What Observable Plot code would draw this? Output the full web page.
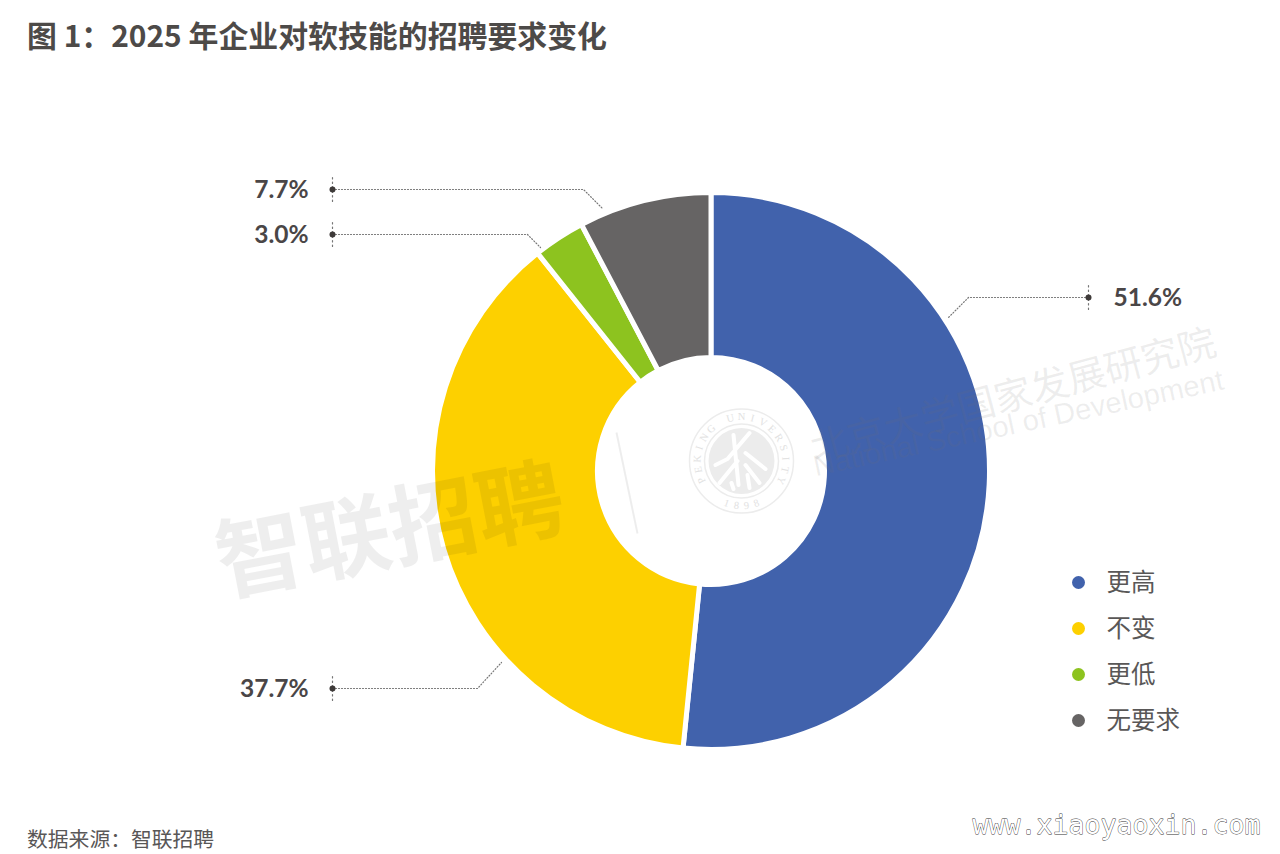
<!DOCTYPE html>
<html lang="zh">
<head>
<meta charset="utf-8">
<title>图 1：2025 年企业对软技能的招聘要求变化</title>
<script src="https://cdn.jsdelivr.net/npm/d3@7"></script>
<script src="https://cdn.jsdelivr.net/npm/@observablehq/plot@0.6"></script>
<style>
  html, body { margin: 0; padding: 0; background: #fff; width: 1280px; height: 854px; overflow: hidden; }
  #title { margin: 0; height: 72px; box-sizing: border-box; padding: 14px 0 0 27px; font: 700 29.9px/40px "Noto Sans CJK SC", sans-serif; color: #4d4a48; white-space: pre; }
  #chart svg { display: block; }
  #source { height: 54px; box-sizing: border-box; padding: 23px 0 0 27px; font: 400 20.8px/30px "Noto Sans CJK SC", sans-serif; color: #595757; }
</style>
</head>
<body>
<h1 id="title">图 1：2025 年企业对软技能的招聘要求变化</h1>
<div id="chart"></div>
<div id="source">数据来源：智联招聘</div>
<script>
// Data
const categories = ["更高", "不变", "更低", "无要求"];
const shares = [51.6, 37.7, 3.0, 7.7];
const shareLabels = ["51.6%", "37.7%", "3.0%", "7.7%"];
const colors = ["#4162ac", "#fdd000", "#8dc31f", "#666464"];

// Layout (page pixels)
const W = 1280, TOP = 72, BOTTOM = 800;
const centre = {x: 711, y: 471}, outerR = 278.5, innerR = 113.5;
const legendX = 1078, legendLabelX = 1106, legendY = [582, 628, 674, 720];
const leaders = [
  {points: [[1088, 297], [968, 297], [947, 318]], labelX: 1113, anchor: "start"},
  {points: [[332, 688], [477, 688], [501, 662]], labelX: 308, anchor: "end"},
  {points: [[332, 234], [527, 234], [540, 247]], labelX: 308, anchor: "end"},
  {points: [[332, 189], [583, 189], [602, 208]], labelX: 308, anchor: "end"}
];

const legendRows = categories.map((c, i) => ({c, y: legendY[i]}));
const leaderPts = leaders.flatMap((l, i) => l.points.map(([x, y]) => ({i, x, y})));
const tickPts = leaders.flatMap((l, i) => [-12, 12].map(d => ({i, x: l.points[0][0], y: l.points[0][1] + d})));
const leaderEnds = leaders.map((l, i) => ({
  x: l.points[0][0], y: l.points[0][1], labelX: l.labelX, anchor: l.anchor, label: shareLabels[i]
}));

const svgNS = "http://www.w3.org/2000/svg";
function donutMark(index, scales) {
  const g = document.createElementNS(svgNS, "g");
  const pie = d3.pie().sort(null).value(d => d.share)(categories.map((c, i) => ({c, share: shares[i]})));
  const r = s => scales.x(s) - scales.x(0);
  const arc = d3.arc().innerRadius(r(innerR)).outerRadius(r(outerR));
  const cx = scales.x(centre.x), cy = scales.y(centre.y);
  g.setAttribute("transform", `translate(${cx},${cy})`);
  for (const p of pie) {
    const path = document.createElementNS(svgNS, "path");
    path.setAttribute("d", arc(p));
    path.setAttribute("fill", scales.color(p.data.c));
    path.setAttribute("stroke", "#fff");
    path.setAttribute("stroke-width", 5);
    g.appendChild(path);
  }
  return g;
}

function sealMark(index, scales) {
  const cx = scales.x(741.5), cy = scales.y(461);
  const g = d3.create("svg:g").attr("transform", `translate(${cx},${cy})`).attr("fill", "none").attr("stroke", "#ececec");
  g.append("circle").attr("r", 52).attr("stroke-width", 1.5);
  g.append("circle").attr("r", 37).attr("stroke-width", 1.5);
  g.append("circle").attr("r", 33).attr("fill", "#ececec").attr("stroke", "none");
  g.append("path").attr("d", "M-8,-26L-3,24M8,-28L-14,-2L-26,4M4,-8L24,8M-4,0L-22,22M4,4L18,22M-10,22L-8,28M6,14L8,27")
    .attr("stroke", "#fff").attr("stroke-width", 4).attr("stroke-linecap", "round");
  const ring = (word, mid, step, radius, flip) => {
    [...word].forEach((ch, i) => {
      const a = mid + (i - (word.length - 1) / 2) * step;
      const rad = a * Math.PI / 180;
      g.append("text").attr("fill", "#e2e2e2").attr("stroke", "none")
        .attr("font-family", "Liberation Serif").attr("font-size", 10.5).attr("text-anchor", "middle").attr("dy", "0.35em")
        .attr("transform", `translate(${radius * Math.sin(rad)},${-radius * Math.cos(rad)}) rotate(${flip ? a - 180 : a})`)
        .text(ch);
    });
  };
  ring("PEKING UNIVERSITY", 0, 14.5, 44.5, false);
  ring("1898", 180, -13, 44.5, true);
  return g.node();
}

const cjk = "Noto Sans CJK SC";
const plot = Plot.plot({
  width: W,
  height: BOTTOM - TOP,
  margin: 0,
  style: {background: "transparent", overflow: "visible"},
  x: {domain: [0, W], range: [0, W], axis: null},
  y: {domain: [TOP, BOTTOM], range: [0, BOTTOM - TOP], axis: null},
  color: {domain: categories, range: colors},
  marks: [
    donutMark,
    // watermarks
    sealMark,
    Plot.text(["智联招聘"], {x: 390, y: 533, rotate: -11, fontSize: 88, fontWeight: 700, fontFamily: cjk, fill: "#000", fillOpacity: 0.067}),
    Plot.link([0], {x1: 616, y1: 432, x2: 637, y2: 533, stroke: "#000", strokeOpacity: 0.07, strokeWidth: 2}),
    Plot.text(["北京大学国家发展研究院"], {x: 1013, y: 396, rotate: -15, fontSize: 38, fontFamily: cjk, fill: "#717171", fillOpacity: 0.12}),
    Plot.text(["National School of Development"], {x: 1018, y: 423, rotate: -12, fontSize: 29.3, fontFamily: "Liberation Sans", fill: "#717171", fillOpacity: 0.12}),
    // leaders
    Plot.line(leaderPts, {x: "x", y: "y", z: "i", stroke: "#777", strokeWidth: 1.2, strokeDasharray: "1 2"}),
    Plot.line(tickPts, {x: "x", y: "y", z: "i", stroke: "#777", strokeWidth: 1.2, strokeDasharray: "1.5 3"}),
    Plot.dot(leaderEnds, {x: "x", y: "y", r: 3, fill: "#3e3a39"}),
    Plot.text(leaderEnds.filter(d => d.anchor === "start"), {x: "labelX", y: "y", dy: 1, text: "label", textAnchor: "start", fontSize: 24.5, fontWeight: 700, fontFamily: "Lato", fill: "#4a4647"}),
    Plot.text(leaderEnds.filter(d => d.anchor === "end"), {x: "labelX", y: "y", dy: 1, text: "label", textAnchor: "end", fontSize: 24.5, fontWeight: 700, fontFamily: "Lato", fill: "#4a4647"}),
    // legend
    Plot.dot(legendRows, {x: () => legendX, y: "y", r: 6.5, fill: "c"}),
    Plot.text(legendRows, {x: () => legendLabelX, y: "y", dy: 1, text: "c", textAnchor: "start", fontSize: 24.5, fontFamily: cjk, fill: "#595757"}),
    // site stamp
    Plot.text(["www.xiaoyaoxin.com"], {x: 1116, y: 825, fontSize: 26.6, fontFamily: "DejaVu Sans Mono", fill: "#fff", stroke: "#333", strokeWidth: 0.8})
  ]
});
document.getElementById("chart").appendChild(plot);
</script>
</body>
</html>
